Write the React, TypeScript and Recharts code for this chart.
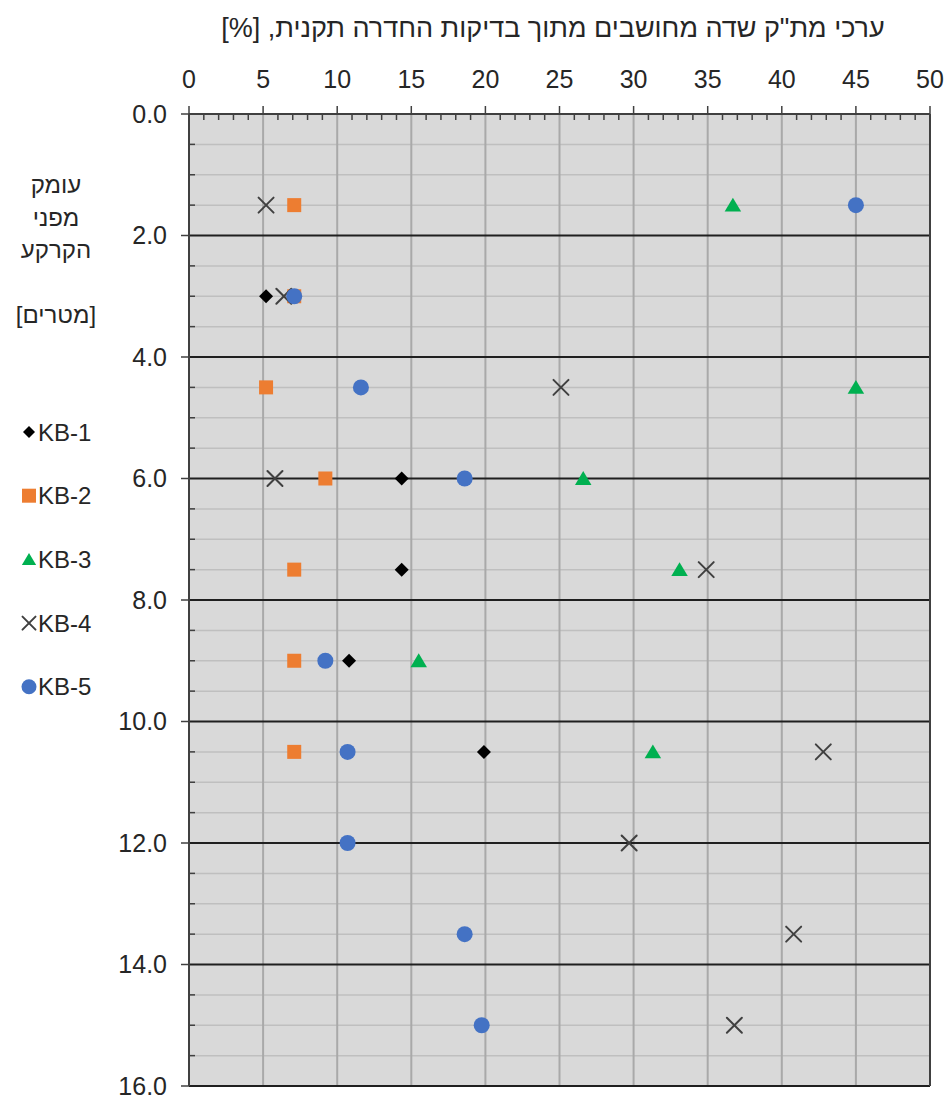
import React from 'react';
import { ScatterChart, Scatter, XAxis, YAxis, CartesianGrid, ReferenceLine, Customized } from 'recharts';

// ---- Data (depth in metres, value in %) ----
const kb1Depths = [3.0, 6.0, 7.5, 9.0, 10.5];
const kb1Values = [5.2, 14.35, 14.35, 10.8, 19.9];

const kb2Depths = [1.5, 3.0, 4.5, 6.0, 7.5, 9.0, 10.5];
const kb2Values = [7.1, 7.1, 5.2, 9.2, 7.1, 7.1, 7.1];

const kb3Depths = [1.5, 4.5, 6.0, 7.5, 9.0, 10.5];
const kb3Values = [36.7, 45.0, 26.6, 33.1, 15.5, 31.3];

const kb4Depths = [1.5, 3.0, 4.5, 6.0, 7.5, 10.5, 12.0, 13.5, 15.0];
const kb4Values = [5.2, 6.4, 25.1, 5.8, 34.9, 42.8, 29.7, 40.8, 36.8];

const kb5Depths = [1.5, 3.0, 4.5, 6.0, 9.0, 10.5, 12.0, 13.5, 15.0];
const kb5Values = [45.0, 7.1, 11.6, 18.6, 9.2, 10.7, 10.7, 18.6, 19.75];

const seriesNames = ['KB-1', 'KB-2', 'KB-3', 'KB-4', 'KB-5'];

const xMajorTicks = [0, 5, 10, 15, 20, 25, 30, 35, 40, 45, 50];
const xMinorTicks = [1, 2, 3, 4, 6, 7, 8, 9, 11, 12, 13, 14, 16, 17, 18, 19, 21, 22, 23, 24, 26, 27, 28, 29, 31, 32, 33, 34, 36, 37, 38, 39, 41, 42, 43, 44, 46, 47, 48, 49];
const yMajorTicks = [0, 2, 4, 6, 8, 10, 12, 14, 16];
const yMinorTicks = [0.5, 1, 1.5, 2.5, 3, 3.5, 4.5, 5, 5.5, 6.5, 7, 7.5, 8.5, 9, 9.5, 10.5, 11, 11.5, 12.5, 13, 13.5, 14.5, 15, 15.5];
const xGridValues = [5, 10, 15, 20, 25, 30, 35, 40, 45];
const yMajorGridValues = [2, 4, 6, 8, 10, 12, 14, 16];

const xTitle = 'ערכי מת"ק שדה מחושבים מתוך בדיקות החדרה תקנית, [%]';
const yTitleLines = ['עומק', 'מפני', 'הקרקע', '', '[מטרים]'];

const toPoints = (depths: number[], values: number[]) =>
  depths.map((d, i) => ({ x: values[i], y: d }));

const kb1 = toPoints(kb1Depths, kb1Values);
const kb2 = toPoints(kb2Depths, kb2Values);
const kb3 = toPoints(kb3Depths, kb3Values);
const kb4 = toPoints(kb4Depths, kb4Values);
const kb5 = toPoints(kb5Depths, kb5Values);

// minor tick positions along the top axis (depth 0) and the left axis (value 0)
const topMinor = xMinorTicks.map((v) => ({ x: v, y: 0 }));
const leftMinor = yMinorTicks.map((d) => ({ x: 0, y: d }));

const FONT = '"Liberation Sans", Arial, sans-serif';
const TEXT = '#262626';
const AXIS = '#404040';

const COLORS = ['#000000', '#ED7D31', '#00B050', '#404040', '#4472C4'];

const drawMarker = (kind: number, cx: number, cy: number, s: number) => {
  switch (kind) {
    case 0:
      return <polygon points={`${cx},${cy - s} ${cx + s},${cy} ${cx},${cy + s} ${cx - s},${cy}`} fill={COLORS[0]} />;
    case 1:
      return <rect x={cx - s} y={cy - s} width={2 * s} height={2 * s} fill={COLORS[1]} />;
    case 2:
      return <polygon points={`${cx},${cy - s} ${cx + s * 1.1},${cy + s * 0.85} ${cx - s * 1.1},${cy + s * 0.85}`} fill={COLORS[2]} />;
    case 3:
      return (
        <g stroke={COLORS[3]} strokeWidth={2} strokeLinecap="round">
          <line x1={cx - s} y1={cy - s} x2={cx + s} y2={cy + s} />
          <line x1={cx - s} y1={cy + s} x2={cx + s} y2={cy - s} />
        </g>
      );
    default:
      return <circle cx={cx} cy={cy} r={s} fill={COLORS[4]} />;
  }
};

const markerSizes = [7, 7, 7.5, 7.5, 8];
const legendSizes = [6, 7, 6.5, 6.5, 7.5];

const makeShape = (kind: number) => (props: any) => {
  const { cx, cy } = props;
  if (cx == null || cy == null) return <g />;
  return drawMarker(kind, cx, cy, markerSizes[kind]);
};

const TopTick = (props: any) => {
  const { cx, cy } = props;
  if (cx == null || cy == null) return <g />;
  return <line x1={cx} y1={cy} x2={cx} y2={cy + 6} stroke={AXIS} strokeWidth={1.5} />;
};

const LeftTick = (props: any) => {
  const { cx, cy } = props;
  if (cx == null || cy == null) return <g />;
  return <line x1={cx} y1={cy} x2={cx + 6} y2={cy} stroke={AXIS} strokeWidth={1.5} />;
};

const Decorations = () => (
  <g fontFamily={FONT} fill={TEXT}>
    <text x={553} y={37} fontSize={27} textAnchor="middle" direction="rtl">
      {xTitle}
    </text>
    {yTitleLines.map((line, i) => (
      <text key={i} x={56} y={193 + i * 32.5} fontSize={24} textAnchor="middle" direction="rtl">
        {line}
      </text>
    ))}
    {seriesNames.map((name, i) => (
      <g key={name}>
        {drawMarker(i, 29, 432 + i * 63.7, legendSizes[i])}
        <text x={38} y={432 + i * 63.7 + 8.5} fontSize={24}>
          {name}
        </text>
      </g>
    ))}
  </g>
);

export default function App() {
  return (
    <div style={{ position: 'absolute', left: 0, top: 0, background: '#fff' }}>
      <ScatterChart
        width={951}
        height={1097}
        margin={{ top: 54, right: 21, bottom: 11, left: 129 }}
      >
        <CartesianGrid
          fill="#d9d9d9"
          vertical={false}
          horizontalValues={yMinorTicks}
          stroke="#bfbfbf"
          strokeWidth={1.5}
        />
        <CartesianGrid
          horizontal={false}
          verticalValues={xGridValues}
          stroke="#a9a9a9"
          strokeWidth={2}
        />
        <CartesianGrid
          vertical={false}
          horizontalValues={yMajorGridValues}
          stroke="#1f1f1f"
          strokeWidth={2}
        />
        <ReferenceLine x={50} stroke={AXIS} strokeWidth={2} />
        <XAxis
          type="number"
          dataKey="x"
          orientation="top"
          domain={[0, 50]}
          ticks={xMajorTicks}
          interval={0}
          height={60}
          allowDataOverflow
          tickSize={8}
          tickMargin={18}
          axisLine={{ stroke: AXIS, strokeWidth: 2 }}
          tickLine={{ stroke: AXIS, strokeWidth: 1.5 }}
          tick={{ fill: TEXT, fontSize: 25, fontFamily: FONT }}
        />
        <YAxis
          type="number"
          dataKey="y"
          domain={[0, 16]}
          reversed
          ticks={yMajorTicks}
          interval={0}
          width={60}
          allowDataOverflow
          tickSize={8}
          tickMargin={14}
          tickFormatter={(v: number) => v.toFixed(1)}
          axisLine={{ stroke: AXIS, strokeWidth: 2 }}
          tickLine={{ stroke: AXIS, strokeWidth: 1.5 }}
          tick={{ fill: TEXT, fontSize: 25, fontFamily: FONT }}
        />
        <Scatter name="top-minor-ticks" data={topMinor} shape={TopTick} legendType="none" isAnimationActive={false} />
        <Scatter name="left-minor-ticks" data={leftMinor} shape={LeftTick} legendType="none" isAnimationActive={false} />
        <Scatter name={seriesNames[0]} data={kb1} shape={makeShape(0)} isAnimationActive={false} />
        <Scatter name={seriesNames[1]} data={kb2} shape={makeShape(1)} isAnimationActive={false} />
        <Scatter name={seriesNames[2]} data={kb3} shape={makeShape(2)} isAnimationActive={false} />
        <Scatter name={seriesNames[3]} data={kb4} shape={makeShape(3)} isAnimationActive={false} />
        <Scatter name={seriesNames[4]} data={kb5} shape={makeShape(4)} isAnimationActive={false} />
        <Customized component={Decorations} />
      </ScatterChart>
    </div>
  );
}
